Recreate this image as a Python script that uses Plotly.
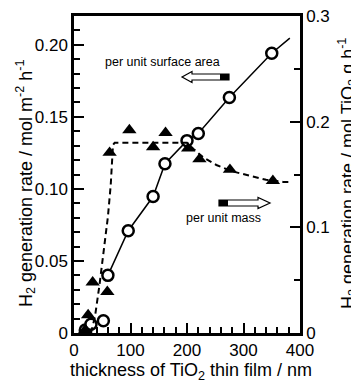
import numpy as np
import plotly.graph_objects as go

# ---- data ----
# per unit surface area (left axis, mol m^-2 h^-1), open circles
area_thickness = [20, 30, 52, 60, 96, 140, 161, 200, 220, 275, 350]
area_rate = [0.002, 0.006, 0.0085, 0.040, 0.071, 0.0947, 0.1175, 0.1335, 0.1385, 0.1635, 0.1942]
# solid guide line through the circles
area_line_thickness = [60, 96, 140, 161, 200, 220, 275, 350, 382]
area_line_rate = [0.040, 0.071, 0.0947, 0.1175, 0.1335, 0.1385, 0.1635, 0.1942, 0.2047]

# per unit mass (right axis, mol TiO2 g^-1 h^-1), filled triangles
mass_thickness = [20, 25, 33, 59, 63, 98, 140, 162, 202, 222, 276, 352]
mass_rate = [0.003, 0.017, 0.048, 0.039, 0.1706, 0.192, 0.176, 0.1895, 0.1747, 0.1645, 0.1545, 0.144]
# dashed guide curve
mass_line_thickness = [30, 37, 45, 52, 60, 65, 67, 69, 72, 150, 200, 212, 229, 252, 280, 306, 340, 370, 382]
mass_line_rate = [0.0, 0.015, 0.045, 0.074, 0.11, 0.14, 0.165, 0.178, 0.18, 0.18, 0.18, 0.174,
                  0.166, 0.159, 0.153, 0.1495, 0.145, 0.143, 0.143]

x_ticks = [0, 100, 200, 300, 400]
y1_ticks = [0, 0.05, 0.10, 0.15, 0.20]
y1_ticktext = ["0", "0.05", "0.10", "0.15", "0.20"]
y2_ticks = [0, 0.1, 0.2, 0.3]
y2_ticktext = ["0", "0.1", "0.2", "0.3"]

x_title = "thickness of TiO<sub>2</sub> thin film / nm"
y1_title = "H<sub>2</sub> generation rate / mol m<sup>-2</sup> h<sup>-1</sup>"
y2_title = "H<sub>2</sub> generation rate / mol TiO<sub>2</sub> g h<sup>-1</sup>"

# page body has an 8px default margin: shift the figure so the plot sits where the reference has it
OFF = 8
WIN_W, WIN_H = 359, 380
W, H = WIN_W - OFF, WIN_H - OFF
PL, PT, PR, PB = 74, 16, 300, 333          # plot box in window pixels
ML, MT = PL - OFF, PT - OFF
PW, PH = PR - PL, PB - PT
MR, MB = W - ML - PW, H - MT - PH

FONT = "Liberation Sans, Arial, sans-serif"

fig = go.Figure()

fig.add_trace(go.Scatter(x=mass_line_thickness, y=mass_line_rate, yaxis="y2", mode="lines",
                         line=dict(color="black", width=2, dash="6px,4px"), showlegend=False))
fig.add_trace(go.Scatter(x=mass_thickness, y=mass_rate, yaxis="y2", mode="markers",
                         marker=dict(symbol="triangle-up", size=12.5, color="black",
                                     line=dict(width=0)), showlegend=False))
fig.add_trace(go.Scatter(x=area_line_thickness, y=area_line_rate, mode="lines",
                         line=dict(color="black", width=1.5), showlegend=False))
fig.add_trace(go.Scatter(x=area_thickness, y=area_rate, mode="markers",
                         marker=dict(symbol="circle", size=11, color="white",
                                     line=dict(color="black", width=2.5)), showlegend=False))

axis_common = dict(showline=True, linecolor="black", linewidth=2.5, ticks="inside",
                   tickcolor="black", tickwidth=2, ticklen=10, showgrid=False, zeroline=False,
                   automargin=False, ticklabeloverflow="allow",
                   tickfont=dict(family=FONT, size=17, color="black"))

fig.update_layout(
    template="none",
    width=W, height=H,
    margin=dict(l=ML, r=MR, t=MT, b=MB, pad=0),
    paper_bgcolor="white", plot_bgcolor="white",
    font=dict(family=FONT, color="black"),
    showlegend=False,
    xaxis=dict(range=[0, 400], tickvals=x_ticks, mirror=True,
               minor=dict(dtick=20, tick0=0, ticks="inside", ticklen=6, tickwidth=1.5, tickcolor="black"),
               **axis_common),
    yaxis=dict(range=[0, 0.22], tickvals=y1_ticks, ticktext=y1_ticktext,
               minor=dict(dtick=0.01, tick0=0, ticks="inside", ticklen=6, tickwidth=1.5, tickcolor="black"),
               **axis_common),
    yaxis2=dict(range=[0, 0.3], tickvals=y2_ticks, ticktext=y2_ticktext, overlaying="y", side="right",
                minor=dict(dtick=0.05, tick0=0, ticks="inside", ticklen=6, tickwidth=1.5, tickcolor="black"),
                **axis_common),
)


def px(xp):
    """window pixel x -> paper fraction"""
    return (xp - PL) / PW


def py(yp):
    """window pixel y -> paper fraction"""
    return (PB - yp) / PH


def arrow_path(tail, tip, yc, head_len, head_half, shaft_half):
    d = 1 if tip > tail else -1
    hb = tip - d * head_len
    pts = [(tail, yc - shaft_half), (hb, yc - shaft_half), (hb, yc - head_half), (tip, yc),
           (hb, yc + head_half), (hb, yc + shaft_half), (tail, yc + shaft_half)]
    return "M " + " L ".join(f"{px(a):.4f},{py(b):.4f}" for a, b in pts) + " Z"


shapes = []
# arrow pointing left (per unit surface area -> left axis)
shapes.append(dict(type="path", xref="paper", yref="paper",
                   path=arrow_path(229, 182, 77, 10, 5.5, 3), line=dict(color="black", width=1.2),
                   fillcolor="white"))
shapes.append(dict(type="rect", xref="paper", yref="paper", x0=px(220), x1=px(229), y0=py(80), y1=py(74),
                   line=dict(width=0), fillcolor="black"))
# arrow pointing right (per unit mass -> right axis)
shapes.append(dict(type="path", xref="paper", yref="paper",
                   path=arrow_path(219, 270, 203, 12, 5.5, 3), line=dict(color="black", width=1.2),
                   fillcolor="white"))
shapes.append(dict(type="rect", xref="paper", yref="paper", x0=px(219), x1=px(228), y0=py(206), y1=py(200),
                   line=dict(width=0), fillcolor="black"))
fig.update_layout(shapes=shapes)

fig.add_annotation(text="per unit surface area", xref="paper", yref="paper", x=px(162), y=py(53),
                   showarrow=False, font=dict(family=FONT, size=12.5, color="black"))
fig.add_annotation(text="per unit mass", xref="paper", yref="paper", x=px(223), y=py(218),
                   showarrow=False, font=dict(family=FONT, size=12.5, color="black"))

# axis titles
fig.add_annotation(text=x_title, xref="paper", yref="paper", x=px(191), y=py(371),
                   xanchor="center", yanchor="middle", showarrow=False,
                   font=dict(family=FONT, size=18, color="black"))
fig.add_annotation(text=y1_title, xref="paper", yref="paper", x=px(25), y=py(183), textangle=-90,
                   xanchor="center", yanchor="middle", showarrow=False,
                   font=dict(family=FONT, size=18, color="black"))
fig.add_annotation(text=y2_title, xref="paper", yref="paper", x=px(347), y=py(174), textangle=-90,
                   xanchor="center", yanchor="middle", showarrow=False,
                   font=dict(family=FONT, size=18, color="black"))

fig.write_html("out.html")
